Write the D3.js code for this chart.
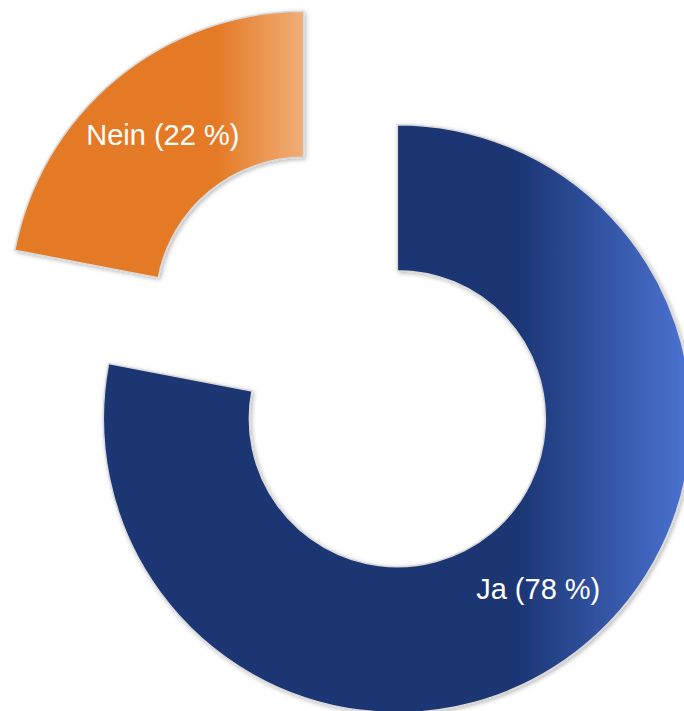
<!DOCTYPE html>
<html>
<head>
<meta charset="utf-8">
<script src="https://cdn.jsdelivr.net/npm/d3@7"></script>
<style>
  html, body { margin: 0; padding: 0; background: #ffffff; }
  svg { display: block; }
</style>
</head>
<body>
<div id="chart"></div>
<script>
// Survey answers, in percent
const categories = ["Ja", "Nein"];
const values = [78, 22];
const labels = ["Ja (78 %)", "Nein (22 %)"];

const width = 684, height = 711;
const cx = 350.5, cy = 362;          // centre of the ring before explosion
const outerR = 294, innerR = 148;
const explode = 73.5;                // every slice is pulled out along its middle

const palette = {
  Ja:   { dark: "#1b3573", light: "#4b73d3" },
  Nein: { dark: "#e47a25", light: "#f1ae78" }
};

const svg = d3.select("#chart").append("svg")
  .attr("width", width).attr("height", height);

const defs = svg.append("defs");

const shadow = defs.append("filter").attr("id", "shadow")
  .attr("x", "-10%").attr("y", "-10%").attr("width", "120%").attr("height", "120%");
shadow.append("feDropShadow")
  .attr("dx", 1.5).attr("dy", 1.5).attr("stdDeviation", 2)
  .attr("flood-color", "#000").attr("flood-opacity", 0.28);

categories.forEach(c => {
  const g = defs.append("linearGradient").attr("id", "grad-" + c)
    .attr("x1", "0%").attr("y1", "0%").attr("x2", "100%").attr("y2", "0%");
  g.append("stop").attr("offset", "0%").attr("stop-color", palette[c].dark);
  g.append("stop").attr("offset", "70%").attr("stop-color", palette[c].dark);
  g.append("stop").attr("offset", "100%").attr("stop-color", palette[c].light);
});

const pie = d3.pie().sort(null).value(d => d.value);
const data = pie(categories.map((c, i) => ({ cat: c, value: values[i], label: labels[i] })));

const arc = d3.arc().innerRadius(innerR).outerRadius(outerR);

const slices = svg.selectAll("g.slice").data(data).join("g")
  .attr("class", "slice")
  .attr("transform", d => {
    const mid = (d.startAngle + d.endAngle) / 2;
    const x = cx + Math.sin(mid) * explode;
    const y = cy - Math.cos(mid) * explode;
    return `translate(${x},${y})`;
  });

slices.append("path")
  .attr("d", arc)
  .attr("fill", d => `url(#grad-${d.data.cat})`)
  .attr("stroke", "#d9d9d9")
  .attr("stroke-width", 1.5)
  .attr("filter", "url(#shadow)");

slices.append("text")
  .attr("transform", d => `translate(${arc.centroid(d)})`)
  .attr("text-anchor", "middle")
  .attr("dy", "0.35em")
  .attr("fill", "#ffffff")
  .attr("font-family", "'Liberation Sans', Arial, sans-serif")
  .attr("font-size", 29)
  .text(d => d.data.label);
</script>
</body>
</html>
